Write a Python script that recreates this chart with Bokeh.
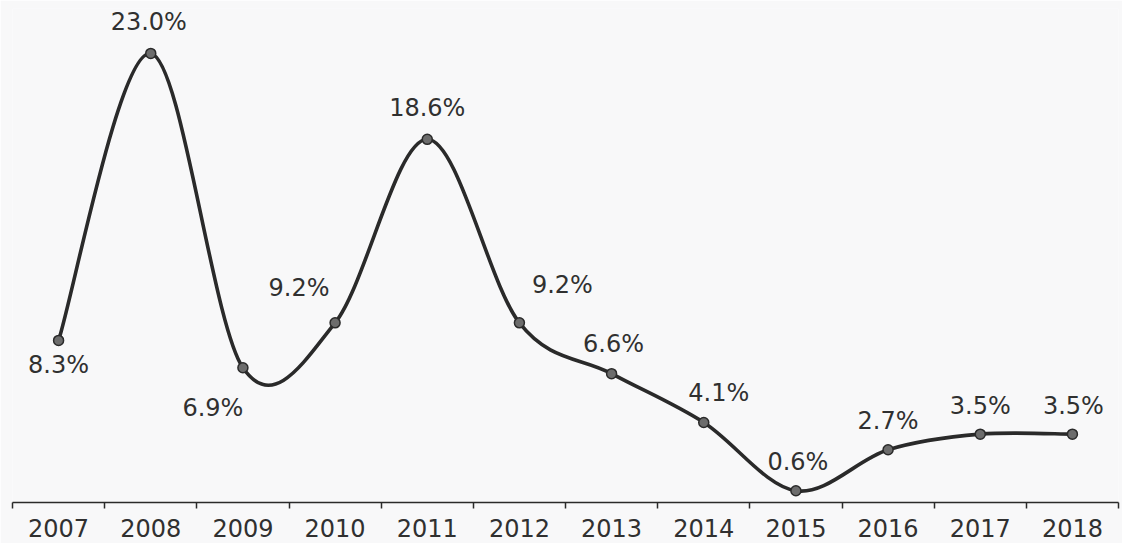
from bokeh.plotting import figure
from bokeh.models import ColumnDataSource, FixedTicker, Range1d
from bokeh.core.properties import value
from bokeh.embed import file_html
from bokeh.resources import INLINE

# ---- data ----
years = ["2007", "2008", "2009", "2010", "2011", "2012",
         "2013", "2014", "2015", "2016", "2017", "2018"]
growth = [8.3, 23.0, 6.9, 9.2, 18.6, 9.2, 6.6, 4.1, 0.6, 2.7, 3.5, 3.5]
labels = [f"{v:.1f}%" for v in growth]

# ---- label placement (screen px) ----
label_dx = [0, -2, -30, -36, 0, 43, 2, 15, 2, 0, 0, 1]
label_dy = [25, -31, 40, -35, -31, -38, -30, -29, -29, -29, -28, -28]

FONT = "DejaVu Sans"
BG = "#f8f8f9"
INK = "#2a2a2a"
TXT = "#303030"

xs = list(range(len(years)))

p = figure(width=1122, height=543, output_backend="svg", toolbar_location=None,
           x_range=Range1d(-0.5, len(years) - 0.5), y_range=Range1d(0, 25.3),
           min_border_left=12, min_border_right=4, min_border_top=8, min_border_bottom=41,
           background_fill_color=BG, border_fill_color=BG)
p.outline_line_color = None
p.grid.visible = False
p.yaxis.visible = False

# smooth curve via Catmull-Rom bezier segments computed from the data
n = len(xs)
def pt(i):
    i = max(0, min(n - 1, i))
    return xs[i], growth[i]
seg = dict(x0=[], y0=[], x1=[], y1=[], cx0=[], cy0=[], cx1=[], cy1=[])
for i in range(n - 1):
    xa, ya = pt(i - 1); xb, yb = pt(i); xc, yc = pt(i + 1); xd, yd = pt(i + 2)
    seg["x0"].append(xb); seg["y0"].append(yb)
    seg["x1"].append(xc); seg["y1"].append(yc)
    seg["cx0"].append(xb + (xc - xa) / 6); seg["cy0"].append(yb + (yc - ya) / 6)
    seg["cx1"].append(xc - (xd - xb) / 6); seg["cy1"].append(yc - (yd - yb) / 6)
p.bezier(x0="x0", y0="y0", x1="x1", y1="y1", cx0="cx0", cy0="cy0", cx1="cx1", cy1="cy1",
         source=ColumnDataSource(seg), line_color=INK, line_width=3.6)

src = ColumnDataSource(dict(x=xs, y=growth, label=labels, dx=label_dx, dy=label_dy))
p.scatter("x", "y", source=src, size=10, fill_color="#6c6c6c", line_color=INK, line_width=1.5)
p.text("x", "y", text="label", source=src, x_offset="dx", y_offset="dy",
       text_font=value(FONT), text_font_size="24px", text_color=TXT,
       text_align="center", text_baseline="middle")

ax = p.xaxis[0]
ax.ticker = FixedTicker(ticks=xs, minor_ticks=[i - 0.5 for i in range(n + 1)])
ax.major_label_overrides = {i: y for i, y in enumerate(years)}
ax.major_tick_out = 0
ax.major_tick_in = 0
ax.minor_tick_out = 6
ax.minor_tick_in = 0
ax.minor_tick_line_color = INK
ax.minor_tick_line_width = 1.5
ax.axis_line_color = INK
ax.axis_line_width = 1.5
ax.major_label_text_font = FONT
ax.major_label_text_font_size = "24px"
ax.major_label_text_color = TXT
ax.major_label_standoff = 10

open("out.html", "w").write(file_html(p, INLINE))
